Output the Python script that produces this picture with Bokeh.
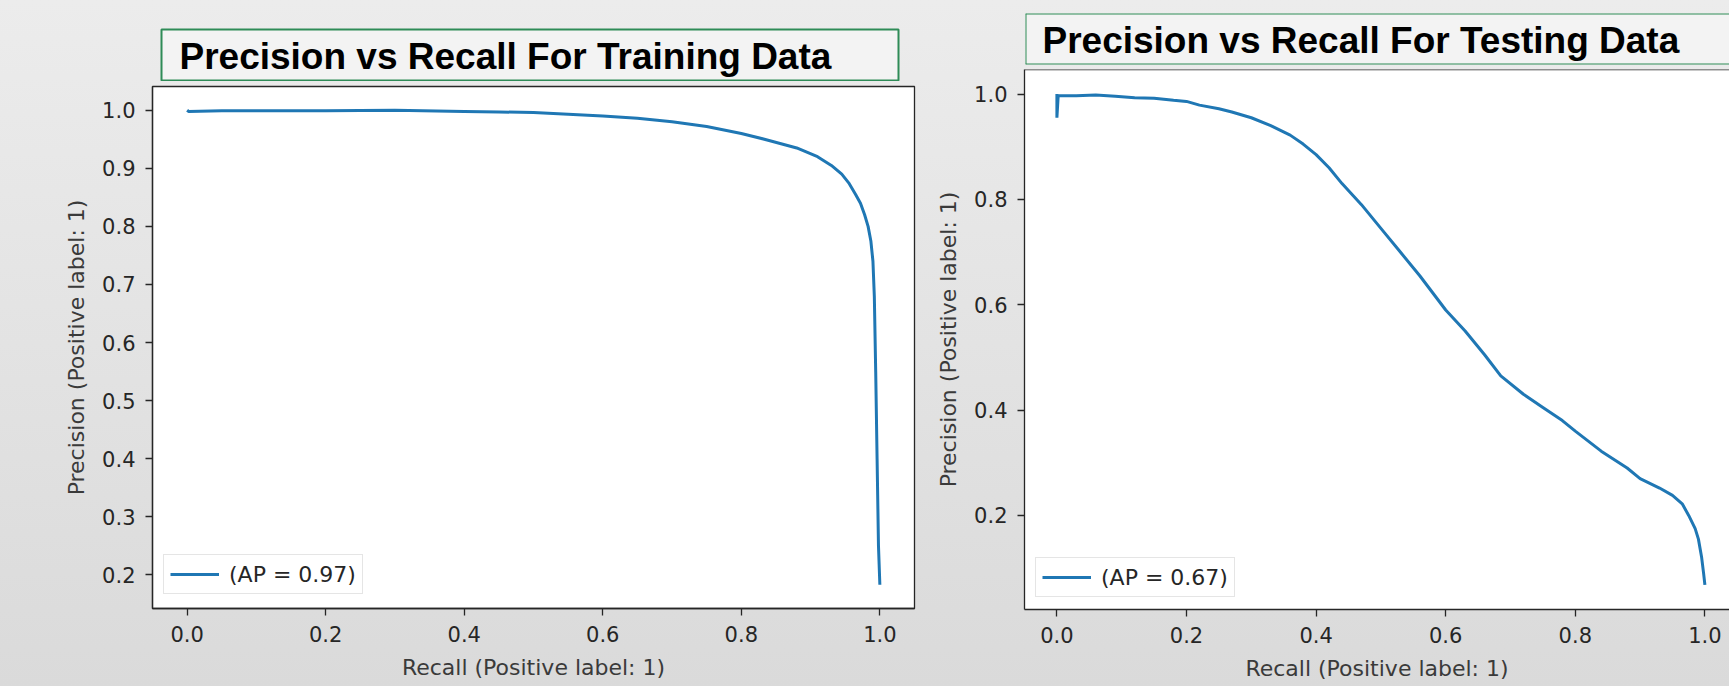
from bokeh.plotting import figure
from bokeh.models import Range1d, FixedTicker, PrintfTickFormatter, Legend, LegendItem, Label, Span
from bokeh.layouts import row, column
from bokeh.embed import file_html
from bokeh.resources import INLINE
from bokeh.core.properties import value

# ---------------- data ----------------
train_recall = [0.0, 0.002, 0.05, 0.10, 0.20, 0.30, 0.40, 0.45, 0.50, 0.55, 0.60, 0.65,
                0.70, 0.75, 0.80, 0.84, 0.88, 0.91, 0.93, 0.945, 0.955, 0.965, 0.972,
                0.978, 0.983, 0.987, 0.990, 0.992, 0.994, 0.996, 0.998, 1.0]
train_precision = [1.0, 0.998, 0.999, 0.999, 0.999, 1.0, 0.998, 0.997, 0.996, 0.993, 0.990,
                   0.986, 0.980, 0.972, 0.960, 0.948, 0.935, 0.920, 0.905, 0.890, 0.875,
                   0.855, 0.840, 0.820, 0.800, 0.775, 0.740, 0.680, 0.550, 0.400, 0.250, 0.183]

test_recall = [0.0, 0.0, 0.002, 0.03, 0.06, 0.09, 0.12, 0.15, 0.18, 0.20, 0.22, 0.25, 0.27,
               0.30, 0.33, 0.36, 0.38, 0.40, 0.42, 0.44, 0.47, 0.50, 0.53, 0.56, 0.60, 0.63,
               0.66, 0.685, 0.72, 0.75, 0.78, 0.80, 0.84, 0.88, 0.90, 0.93, 0.95, 0.965,
               0.975, 0.985, 0.99, 0.995, 0.998, 1.0]
test_precision = [1.0, 0.955, 0.997, 0.997, 0.998, 0.996, 0.993, 0.992, 0.988, 0.986, 0.979,
                  0.972, 0.966, 0.955, 0.940, 0.922, 0.905, 0.885, 0.860, 0.830, 0.790,
                  0.745, 0.700, 0.655, 0.590, 0.550, 0.505, 0.465, 0.430, 0.405, 0.380,
                  0.360, 0.322, 0.290, 0.270, 0.252, 0.238, 0.222, 0.200, 0.175, 0.155,
                  0.120, 0.090, 0.068]

train_ap_label = "(AP = 0.97)"
test_ap_label = "(AP = 0.67)"
train_title = "Precision vs Recall For Training Data"
test_title = "Precision vs Recall For Testing Data"
x_label = "Recall (Positive label: 1)"
y_label = "Precision (Positive label: 1)"
x_ticks = [0.0, 0.2, 0.4, 0.6, 0.8, 1.0]
train_y_ticks = [0.2, 0.3, 0.4, 0.5, 0.6, 0.7, 0.8, 0.9, 1.0]
test_y_ticks = [0.2, 0.4, 0.6, 0.8, 1.0]

# ---------------- style ----------------
BLUE = "#1f77b4"
DARK = "#262626"
LABEL_COLOR = "#3a3a3a"
AX_FONT = "DejaVu Sans"
TITLE_FONT = "Liberation Sans"
GREEN = "#2e8b57"


def padded(vals):
    lo, hi = min(vals), max(vals)
    pad = 0.05 * (hi - lo)
    return lo - pad, hi + pad


def make_title(text, width, margin, tx, border_left, border_right, open_right=False):
    # the column aligns this figure's borders with the plot below it,
    # so its width includes the plot's left border
    t = figure(width=width, height=53, x_range=Range1d(0, 1), y_range=Range1d(0, 1),
               toolbar_location=None, output_backend="svg",
               x_axis_location=None, y_axis_location=None,
               min_border_left=border_left, min_border_top=1, min_border_bottom=1,
               min_border_right=border_right)
    t.grid.visible = False
    t.background_fill_color = "#f3f3f3"
    t.border_fill_alpha = 0
    t.margin = margin
    if open_right:
        t.outline_line_color = None
        t.add_layout(Span(location=0, dimension="height", line_color=GREEN, line_width=2))
        t.add_layout(Span(location=0, dimension="width", line_color=GREEN, line_width=2))
        t.add_layout(Span(location=1, dimension="width", line_color=GREEN, line_width=2))
    else:
        t.outline_line_color = GREEN
        t.outline_line_width = 2
    t.add_layout(Label(x=tx, y=0.47, x_units="screen", y_units="data", text=text,
                       text_font=TITLE_FONT, text_font_style="bold",
                       text_font_size="37px", text_color="black",
                       text_baseline="middle"))
    return t


def make_plot(recall, precision, yticks, ap_label, width, height,
              mbl, mbr, mbt, mbb, legend_loc, x_end=None):
    x0, x1 = padded(recall)
    y0, y1 = padded(precision)
    if x_end is not None:
        x1 = x_end
    p = figure(width=width, height=height, x_range=Range1d(x0, x1), y_range=Range1d(y0, y1),
               toolbar_location=None, output_backend="svg",
               min_border_left=mbl, min_border_right=mbr,
               min_border_top=mbt, min_border_bottom=mbb)
    p.grid.visible = False
    p.background_fill_color = "white"
    p.border_fill_alpha = 0
    if x_end is None:
        p.outline_line_color = DARK
        p.outline_line_width = 1.3
        p.outline_line_alpha = 1.0
    else:
        p.outline_line_color = None
        p.add_layout(Span(location=y1, dimension="width", line_color=DARK, line_width=1.3))

    r = p.line(recall, precision, line_color=BLUE, line_width=3)

    p.xaxis.ticker = FixedTicker(ticks=x_ticks)
    p.yaxis.ticker = FixedTicker(ticks=yticks)
    for ax in (p.xaxis, p.yaxis):
        ax.formatter = PrintfTickFormatter(format="%.1f")
        ax.axis_line_color = DARK
        ax.axis_line_width = 1.3
        ax.major_tick_line_color = DARK
        ax.major_tick_line_width = 1.3
        ax.major_tick_out = 7
        ax.major_tick_in = 0
        ax.minor_tick_line_color = None
        ax.major_label_text_font = AX_FONT
        ax.major_label_text_font_size = "21px"
        ax.major_label_text_color = DARK
        ax.major_label_standoff = 10
        ax.axis_label_text_font = AX_FONT
        ax.axis_label_text_font_size = "22px"
        ax.axis_label_text_font_style = "normal"
        ax.axis_label_text_color = LABEL_COLOR
        ax.axis_label_standoff = 10
    p.xaxis.axis_label = x_label
    p.yaxis.axis_label = y_label

    legend = Legend(items=[LegendItem(label=value(ap_label), renderers=[r])],
                    location=legend_loc, margin=0, padding=6,
                    glyph_width=49, glyph_height=26, label_height=26,
                    label_standoff=10, label_text_font=AX_FONT,
                    label_text_font_size="22px", label_text_color=DARK,
                    border_line_color="#cccccc", border_line_width=1,
                    background_fill_color="white", background_fill_alpha=0.8)
    p.add_layout(legend)
    return p


# left panel: frame x 152..914, y 86..608 ; title box x 161..898, y 28..81
left_title = make_title(train_title, 144 + 737 + 2, (20, 0, 0, 9), 18, 144, 2)
left_plot = make_plot(train_recall, train_precision, train_y_ticks, train_ap_label,
                      908, 607, 144, 2, 5, 80, (11, 14))
# right panel: frame x 1024..(page edge), y 69..609 ; title box x 1025.., y 12..65
right_title = make_title(test_title, 108 + 704, (4, 0, 0, 1), 17, 108, 0, open_right=True)
right_plot = make_plot(test_recall, test_precision, test_y_ticks, test_ap_label,
                       813, 624, 108, 0, 4, 80, (11, 12), x_end=-0.05 + 705 / 648)

layout = row(column(left_title, left_plot, spacing=0),
             column(right_title, right_plot, spacing=0), spacing=0)

html = file_html(layout, INLINE)
css = ("<style>html,body{overflow:hidden;}"
       "body{margin:8px 0 0 8px;background:linear-gradient(#ececec,#dadada);}</style></head>")
html = html.replace("</head>", css, 1)
open("out.html", "w").write(html)
